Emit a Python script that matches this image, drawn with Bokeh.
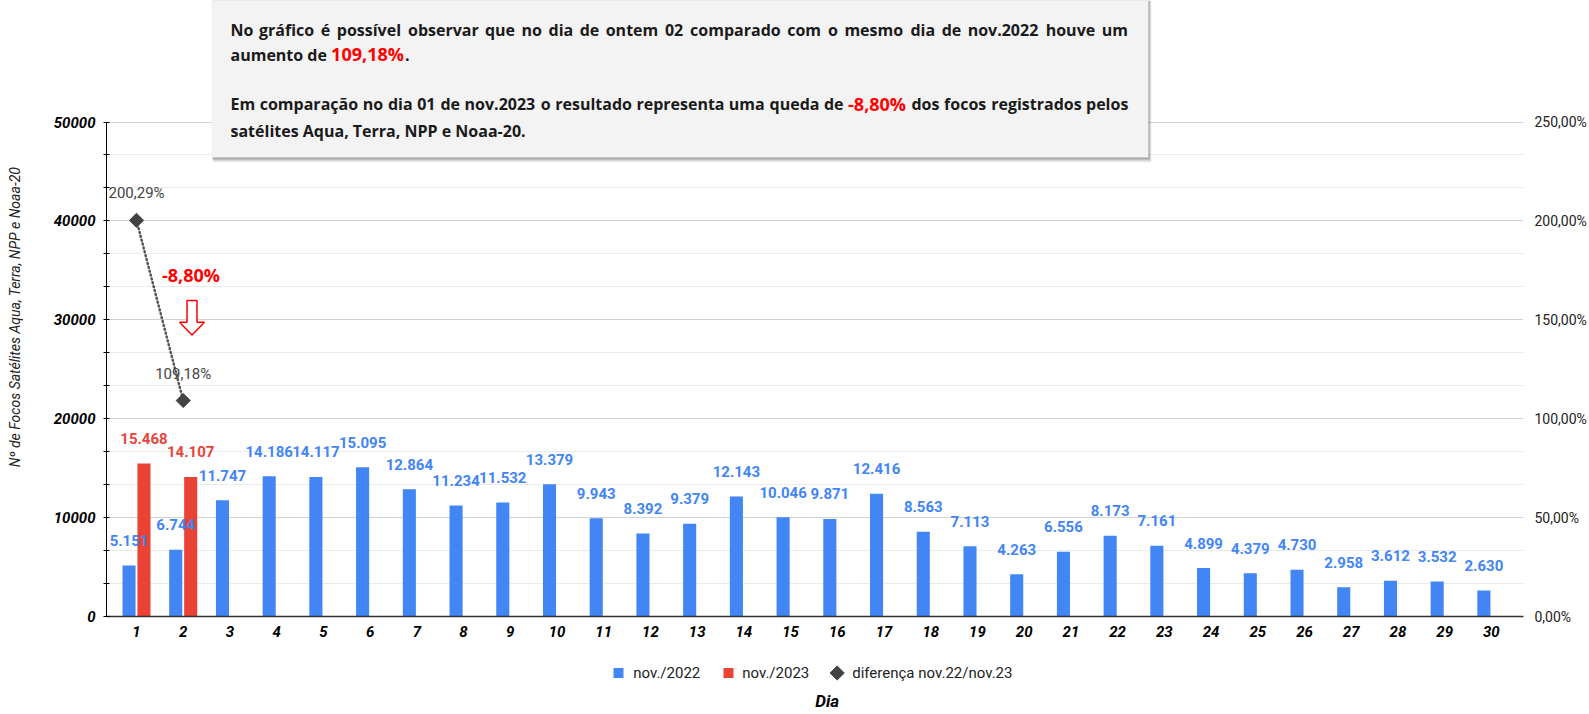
from bokeh.plotting import figure
from bokeh.models import Range1d, LinearAxis, FixedTicker, ColumnDataSource, CustomJSTickFormatter
from bokeh.transform import dodge
from bokeh.core.properties import value
from bokeh.layouts import column
from bokeh.embed import file_html
from bokeh.resources import INLINE

# ---------------- data ----------------
days = list(range(1, 31))
nov2022 = [5151, 6744, 11747, 14186, 14117, 15095, 12864, 11234, 11532, 13379,
           9943, 8392, 9379, 12143, 10046, 9871, 12416, 8563, 7113, 4263,
           6556, 8173, 7161, 4899, 4379, 4730, 2958, 3612, 3532, 2630]
days2023 = [1, 2]
nov2023 = [15468, 14107]
diff_pct = [200.29, 109.18]
series_names = ["nov./2022", "nov./2023", "diferença nov.22/nov.23"]
series_colors = ["#4285f4", "#ea4335", "#434343"]
left_ticks = [0, 10000, 20000, 30000, 40000, 50000]
right_ticks = [0, 50, 100, 150, 200, 250]
y_title = "Nº de Focos Satélites Aqua, Terra, NPP e Noaa-20"
x_title = "Dia"
drop_label = "-8,80%"
note_line1 = "No gráfico é possível observar que no dia de ontem 02 comparado com o mesmo dia de nov.2022 houve um"
note_line2 = ["aumento de", "109,18%", "."]
note_line3 = ["Em comparação no dia 01 de nov.2023 o resultado representa uma queda de", "-8,80%",
              "dos focos registrados pelos"]
note_line4 = "satélites Aqua, Terra, NPP e Noaa-20."


def fmt_int(v):
    return f"{v:,}".replace(",", ".")


def fmt_pct(v):
    return f"{v:.2f}".replace(".", ",") + "%"


# ---------------- layout helpers (page pixels -> data) ----------------
B_LEFT, B_RIGHT, B_BOTTOM = 106, 64, 32
FRAME_W, FRAME_H = 1417, 616
H_LEG = 64
X0_PAGE, DX = 136.0, 46.72          # page x of day 1 group centre, px per day
Y0_PAGE, SCALE = 616.0, 0.00989     # page y of value 0, px per unit (left axis)


def dx(px):
    return 1 + (px - X0_PAGE) / DX


def dy(py):
    return (Y0_PAGE - py) / SCALE


y_end = dy(0)

p = figure(frame_width=FRAME_W, frame_height=FRAME_H,
           x_range=Range1d(dx(B_LEFT), dx(B_LEFT + FRAME_W)),
           y_range=Range1d(0, y_end),
           output_backend="svg", toolbar_location=None,
           min_border_left=B_LEFT, min_border_right=B_RIGHT,
           min_border_top=0, min_border_bottom=B_BOTTOM,
           outline_line_color=None, background_fill_color="white")
p.extra_y_ranges = {"pct": Range1d(0, y_end / 200.0)}

minor = [i * 10000 / 3 for i in range(1, 15) if i % 3 != 0]

# left axis
ya = p.yaxis[0]
ya.ticker = FixedTicker(ticks=left_ticks, minor_ticks=minor)
ya.bounds = (0, 50000)
ya.axis_line_color = "black"
ya.axis_line_width = 1
ya.major_tick_in = 3
ya.major_tick_out = 3
ya.minor_tick_in = 3
ya.minor_tick_out = 3
ya.major_tick_line_color = "black"
ya.minor_tick_line_color = "black"
ya.major_label_text_font = "Roboto"
ya.major_label_text_font_style = "bold italic"
ya.major_label_text_font_size = "15px"
ya.major_label_text_color = "black"
ya.major_label_standoff = 8
ya.axis_label = y_title + "\u00a0" * 5
ya.axis_label_text_font = "Roboto"
ya.axis_label_text_font_style = "italic"
ya.axis_label_text_font_size = "14px"
ya.axis_label_text_color = "#222222"
ya.axis_label_standoff = 28

# grid
p.xgrid.visible = False
p.ygrid.ticker = FixedTicker(ticks=left_ticks, minor_ticks=minor)
p.ygrid.grid_line_color = "#d2d2d2"
p.ygrid.minor_grid_line_color = "#ebebeb"

# right axis
ra = LinearAxis(y_range_name="pct", ticker=FixedTicker(ticks=right_ticks),
                formatter=CustomJSTickFormatter(code="return tick.toFixed(2).replace('.', ',') + '%';"))
ra.axis_line_color = None
ra.major_tick_line_color = None
ra.minor_tick_line_color = None
ra.major_label_text_font = "Roboto"
ra.major_label_text_font_size = "14px"
ra.major_label_text_color = "#222222"
ra.major_label_standoff = 5
p.add_layout(ra, "right")

# x axis
xa = p.xaxis[0]
xa.ticker = FixedTicker(ticks=days)
xa.axis_line_color = "#333333"
xa.axis_line_width = 1.5
xa.major_tick_line_color = None
xa.minor_tick_line_color = None
xa.major_label_text_font = "Roboto"
xa.major_label_text_font_style = "bold italic"
xa.major_label_text_font_size = "15px"
xa.major_label_text_color = "black"
xa.major_label_standoff = 3

# ---------------- bars ----------------
src22 = ColumnDataSource(dict(day=days, v=nov2022, lbl=[fmt_int(v) for v in nov2022]))
src23 = ColumnDataSource(dict(day=days2023, v=nov2023, lbl=[fmt_int(v) for v in nov2023]))
OFF = 0.16
p.vbar(x=dodge("day", -OFF), top="v", width=0.28, source=src22,
       fill_color=series_colors[0], line_color=None)
p.vbar(x=dodge("day", OFF), top="v", width=0.28, source=src23,
       fill_color=series_colors[1], line_color=None)
p.text(x=dodge("day", OFF), y="v", text="lbl", source=src23, y_offset=-25,
       text_align="center", text_baseline="middle", text_font=value("Roboto"),
       text_font_style="bold", text_font_size="15px", text_color="#e8453c")
p.text(x=dodge("day", -OFF), y="v", text="lbl", source=src22, y_offset=-25,
       text_align="center", text_baseline="middle", text_font=value("Roboto"),
       text_font_style="bold", text_font_size="15px", text_color=series_colors[0])

# ---------------- difference line ----------------
srcd = ColumnDataSource(dict(day=days2023, v=diff_pct, lbl=[fmt_pct(v) for v in diff_pct]))
p.line(x="day", y="v", source=srcd, y_range_name="pct", line_dash="1 3",
       line_width=2.5, line_color="#555555", line_cap="round")
p.scatter(x="day", y="v", source=srcd, y_range_name="pct", marker="square",
          angle=0.785398, size=10, fill_color=series_colors[2], line_color=series_colors[2])
p.text(x="day", y="v", text="lbl", source=srcd, y_range_name="pct", y_offset=-27,
       text_align="center", text_baseline="middle", text_font=value("Roboto"),
       text_font_size="15px", text_color="#444444")

# annotation: -8,80% and hollow arrow
p.text(x=[dx(190.5)], y=[dy(274.6)], text=[drop_label], text_align="center",
       text_baseline="middle", text_font=value("Open Sans"), text_font_style="bold",
       text_font_size="18px", text_color="#ff0000")
ax_px = [186.5, 196.5, 196.5, 204, 191.5, 179, 186.5]
ay_px = [300, 300, 321.7, 321.7, 334.5, 321.7, 321.7]
p.patch(x=[dx(v) for v in ax_px], y=[dy(v) for v in ay_px], fill_color="white",
        line_color="#ff0000", line_width=1.5)

# ---------------- text box ----------------
BX0, BX1, BY1 = 211, 1148, 157
for k, a in [(5, 0.05), (4, 0.07), (3, 0.09), (2, 0.11), (1, 0.13)]:
    p.quad(left=[dx(BX0 + k * 0.4)], right=[dx(BX1 + k * 0.6)], top=[dy(0)],
           bottom=[dy(BY1 + k)], fill_color="#000000", fill_alpha=a, line_color=None)
p.quad(left=[dx(BX0)], right=[dx(BX1)], top=[dy(0)], bottom=[dy(BY1)],
       fill_color="#f3f3f3", line_color=None)

# approximate Open Sans Bold advance widths (em) used to justify lines
CW = {' ': .26, 'a': .589, 'á': .589, 'ã': .589, 'b': .617, 'c': .507, 'ç': .507, 'd': .617,
      'e': .579, 'é': .579, 'f': .391, 'g': .551, 'h': .65, 'i': .308, 'í': .308, 'l': .308,
      'm': .988, 'n': .65, 'o': .608, 'p': .617, 'q': .617, 'r': .44, 's': .496, 't': .412,
      'u': .65, 'v': .559, 'N': .746, 'E': .523, 'A': .696, 'T': .551, 'P': .611,
      '.': .288, ',': .288, '-': .322, '%': .88}


def tw(s, size):
    return sum(CW.get(ch, .572) for ch in s) * size * 1.018


TXT = "#1a1a1a"
RED = "#ff0000"
FS, FR = 16, 18
LX0, LX1 = 230, 1128
segs = []


def justify(words, y):
    widths = [tw(w, s) for w, s, c in words]
    gap = (LX1 - LX0 - sum(widths)) / (len(words) - 1)
    x = LX0
    for (w, s, c), wd in zip(words, widths):
        segs.append((w, x, y, "left", c, s))
        x += wd + gap


justify([(w, FS, TXT) for w in note_line1.split(" ")], 29.4)
l3 = ([(w, FS, TXT) for w in note_line3[0].split(" ")] + [(note_line3[1], FR, RED)]
      + [(w, FS, TXT) for w in note_line3[2].split(" ")])
justify(l3, 103.4)
x2 = LX0
segs.append((note_line2[0], x2, 54, "left", TXT, FS))
x2 += tw(note_line2[0], FS) + 4
segs.append((note_line2[1], x2, 53.5, "left", RED, FR))
x2 += tw(note_line2[1], FR)
segs.append((note_line2[2], x2, 54, "left", TXT, FS))
segs.append((note_line4, LX0, 130, "left", TXT, FS))

for t, x, y, al, c, s in segs:
    p.text(x=[dx(x)], y=[dy(y)], text=[t], text_align=al, text_baseline="middle",
           text_font=value("Open Sans"), text_font_style="bold", text_font_size=f"{s}px",
           text_color=c)

# ---------------- legend / x title strip ----------------
top_page = FRAME_H + B_BOTTOM
leg = figure(frame_width=FRAME_W, frame_height=H_LEG,
             x_range=Range1d(B_LEFT, B_LEFT + FRAME_W),
             y_range=Range1d(top_page + H_LEG, top_page),
             output_backend="svg", toolbar_location=None,
             x_axis_type=None, y_axis_type=None, outline_line_color=None,
             min_border_left=B_LEFT, min_border_right=B_RIGHT, min_border_top=0, min_border_bottom=0)
LY = 672.5
leg.rect(x=[618, 728], y=[LY, LY], width=10, height=10,
         fill_color=series_colors[:2], line_color=None)
leg.scatter(x=[836.7], y=[LY], marker="square", angle=0.785398, size=10,
            fill_color=series_colors[2], line_color=series_colors[2])
leg.text(x=[632.7, 741.7, 851.7], y=[LY] * 3, text=series_names, text_baseline="middle",
         text_font=value("Roboto"), text_font_size="15px", text_color="#222222")
leg.text(x=[826.7], y=[700.5], text=[x_title], text_align="center", text_baseline="middle",
         text_font=value("Roboto"), text_font_style="bold italic", text_font_size="17px",
         text_color="black")

layout = column(p, leg, spacing=0)
open("out.html", "w").write(file_html(layout, INLINE))
